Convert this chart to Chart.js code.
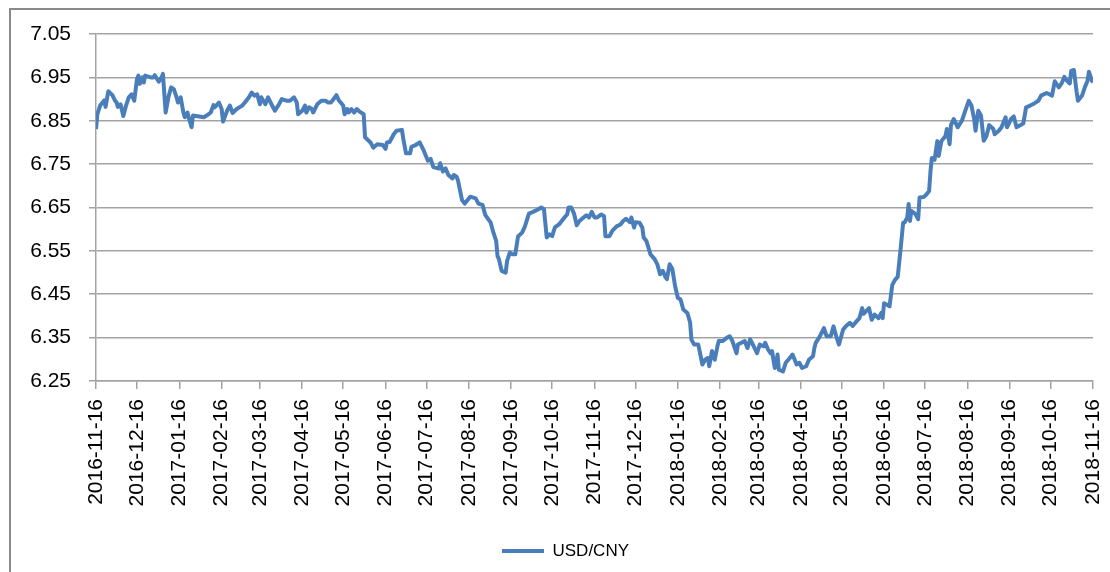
<!DOCTYPE html>
<html>
<head>
<meta charset="utf-8">
<script src="https://cdn.jsdelivr.net/npm/chart.js@4"></script>
<style>
  body { margin: 0; background: #fff; }
  #wrap { width: 1110px; height: 572px; }
</style>
</head>
<body>
<div id="wrap"><canvas id="fxChart"></canvas></div>
<script>
// x values are days after 2016-11-16 (the chart uses a date axis)
const startDate = '2016-11-16';
const tickLabels = ['2016-11-16', '2016-12-16', '2017-01-16', '2017-02-16', '2017-03-16', '2017-04-16',
  '2017-05-16', '2017-06-16', '2017-07-16', '2017-08-16', '2017-09-16', '2017-10-16', '2017-11-16',
  '2017-12-16', '2018-01-16', '2018-02-16', '2018-03-16', '2018-04-16', '2018-05-16', '2018-06-16',
  '2018-07-16', '2018-08-16', '2018-09-16', '2018-10-16', '2018-11-16'];
const yTicks = [6.25, 6.35, 6.45, 6.55, 6.65, 6.75, 6.85, 6.95, 7.05];
const seriesName = 'USD/CNY';

const days = [
  0, 1, 3, 6, 7, 9, 12, 14, 15, 16,
  18, 20, 22, 24, 26, 28, 30, 31, 32, 34,
  35, 36, 40, 42, 43, 46, 48, 49, 51, 53,
  55, 57, 59, 60, 62, 64, 65, 67, 68, 70,
  71, 79, 81, 84, 86, 87, 90, 92, 93, 96,
  98, 100, 103, 107, 109, 112, 114, 116, 118, 120,
  121, 124, 126, 129, 131, 134, 136, 140, 142, 145,
  147, 148, 151, 153, 154, 156, 158, 159, 162, 165,
  168, 170, 172, 174, 176, 178, 181, 182, 184, 185,
  187, 189, 191, 193, 196, 197, 201, 203, 206, 210,
  212, 213, 215, 218, 220, 224, 225, 227, 230, 231,
  234, 237, 240, 243, 245, 247, 251, 252, 254, 256,
  258, 261, 262, 264, 265, 268, 270, 274, 278, 280,
  283, 285, 289, 291, 293, 294, 295, 297, 300, 301,
  303, 305, 307, 309, 312, 314, 317, 320, 324, 326,
  328, 330, 332, 334, 336, 339, 341, 343, 345, 346,
  348, 350, 352, 354, 357, 359, 361, 363, 365, 367,
  370, 372, 373, 376, 378, 381, 384, 386, 388, 391,
  392, 394, 395, 398, 400, 401, 403, 406, 409, 411,
  413, 415, 417, 418, 420, 422, 424, 426, 428, 430,
  433, 435, 436, 438, 441, 444, 446, 448, 449, 451,
  453, 455, 456, 459, 462, 464, 466, 469, 470, 473,
  475, 477, 479, 481, 484, 486, 489, 490, 492, 494,
  495, 497, 498, 499, 500, 503, 505, 508, 510, 513,
  515, 517, 520, 522, 525, 526, 527, 530, 533, 535,
  538, 540, 542, 544, 547, 549, 552, 554, 557, 559,
  561, 562, 566, 568, 570, 573, 575, 576, 577, 579,
  581, 583, 585, 587, 589, 591, 592, 594, 595, 596,
  597, 600, 602, 603, 606, 608, 610, 611, 612, 614,
  616, 617, 619, 622, 623, 625, 626, 628, 631, 634,
  636, 639, 641, 643, 644, 646, 648, 650, 652, 654,
  657, 658, 661, 663, 666, 667, 670, 672, 674, 677,
  679, 681, 684, 687, 690, 692, 696, 698, 700, 702,
  705, 707, 709, 711, 713, 714, 716, 718, 719, 722,
  724, 726, 727, 729, 730
];

const rates = [
  6.831, 6.865, 6.885, 6.897, 6.882, 6.918, 6.909, 6.896, 6.893, 6.882,
  6.888, 6.861, 6.885, 6.904, 6.911, 6.896, 6.946, 6.954, 6.935, 6.950,
  6.938, 6.954, 6.950, 6.950, 6.955, 6.940, 6.950, 6.958, 6.869, 6.904,
  6.927, 6.923, 6.904, 6.892, 6.904, 6.869, 6.858, 6.869, 6.856, 6.835,
  6.862, 6.858, 6.862, 6.869, 6.886, 6.881, 6.892, 6.877, 6.848, 6.873,
  6.885, 6.868, 6.877, 6.885, 6.892, 6.904, 6.915, 6.908, 6.911, 6.888,
  6.904, 6.888, 6.904, 6.885, 6.873, 6.888, 6.900, 6.896, 6.896, 6.904,
  6.892, 6.865, 6.873, 6.885, 6.869, 6.881, 6.877, 6.869, 6.888, 6.896,
  6.896, 6.892, 6.892, 6.900, 6.909, 6.896, 6.885, 6.865, 6.877, 6.869,
  6.877, 6.869, 6.877, 6.871, 6.865, 6.812, 6.800, 6.788, 6.796, 6.794,
  6.785, 6.800, 6.801, 6.819, 6.827, 6.829, 6.808, 6.775, 6.775, 6.790,
  6.794, 6.800, 6.781, 6.758, 6.762, 6.743, 6.740, 6.752, 6.733, 6.740,
  6.725, 6.717, 6.725, 6.721, 6.713, 6.667, 6.659, 6.675, 6.671, 6.659,
  6.656, 6.633, 6.615, 6.592, 6.573, 6.538, 6.531, 6.504, 6.500, 6.527,
  6.546, 6.542, 6.542, 6.583, 6.592, 6.606, 6.636, 6.640, 6.646, 6.650,
  6.646, 6.581, 6.588, 6.584, 6.604, 6.611, 6.619, 6.627, 6.634, 6.650,
  6.650, 6.636, 6.609, 6.619, 6.627, 6.632, 6.627, 6.640, 6.627, 6.627,
  6.634, 6.630, 6.584, 6.584, 6.596, 6.606, 6.611, 6.619, 6.624, 6.616,
  6.627, 6.604, 6.616, 6.615, 6.604, 6.581, 6.573, 6.542, 6.531, 6.519,
  6.496, 6.504, 6.489, 6.485, 6.519, 6.508, 6.469, 6.442, 6.438, 6.415,
  6.407, 6.385, 6.345, 6.334, 6.334, 6.288, 6.299, 6.303, 6.284, 6.319,
  6.299, 6.330, 6.342, 6.342, 6.350, 6.353, 6.342, 6.314, 6.334, 6.339,
  6.342, 6.326, 6.346, 6.334, 6.314, 6.334, 6.330, 6.338, 6.323, 6.314,
  6.319, 6.280, 6.288, 6.311, 6.276, 6.272, 6.292, 6.303, 6.311, 6.288,
  6.292, 6.280, 6.284, 6.299, 6.307, 6.326, 6.338, 6.353, 6.372, 6.353,
  6.353, 6.376, 6.353, 6.334, 6.368, 6.376, 6.384, 6.377, 6.388, 6.395,
  6.418, 6.405, 6.418, 6.391, 6.403, 6.395, 6.407, 6.395, 6.429, 6.426,
  6.422, 6.471, 6.483, 6.490, 6.550, 6.615, 6.615, 6.627, 6.658, 6.619,
  6.642, 6.635, 6.623, 6.673, 6.674, 6.680, 6.688, 6.733, 6.764, 6.760,
  6.803, 6.769, 6.803, 6.815, 6.831, 6.796, 6.840, 6.854, 6.835, 6.850,
  6.869, 6.896, 6.885, 6.854, 6.827, 6.873, 6.862, 6.804, 6.815, 6.840,
  6.831, 6.819, 6.827, 6.835, 6.858, 6.835, 6.854, 6.860, 6.835, 6.840,
  6.844, 6.881, 6.885, 6.890, 6.896, 6.908, 6.914, 6.911, 6.908, 6.941,
  6.927, 6.936, 6.951, 6.942, 6.936, 6.965, 6.967, 6.917, 6.896, 6.908,
  6.927, 6.942, 6.963, 6.944, 6.938
];

const lineColor = '#4a7ebb';
const gridColor = '#a3a3a3';
const DAY = 86400000;
const tickDays = tickLabels.map(d => Math.round((Date.parse(d) - Date.parse(startDate)) / DAY));

// grey frame round the chart, like the spreadsheet chart area
const framePlugin = {
  id: 'frame',
  beforeDraw(chart) {
    const c = chart.ctx;
    c.save();
    c.fillStyle = '#fff';
    c.fillRect(0, 0, chart.width, chart.height);
    c.strokeStyle = '#8a8a8a';
    c.lineWidth = 2;
    c.strokeRect(10, 9, chart.width + 20, chart.height + 20);
    c.restore();
  },
  afterLayout(chart) {
    // legend sits a bit right of centre in the original
    chart.legend.left += 14;
    chart.legend.right += 14;
  }
};

new Chart(document.getElementById('fxChart'), {
  type: 'line',
  data: {
    datasets: [{
      label: seriesName,
      data: days.map((d, i) => ({ x: d, y: rates[i] })),
      borderColor: lineColor,
      backgroundColor: lineColor,
      borderWidth: 4,
      pointRadius: 0,
      tension: 0,
      borderJoinStyle: 'round'
    }]
  },
  options: {
    responsive: true,
    maintainAspectRatio: false,
    animation: false,
    layout: { padding: { left: 10, right: 17, top: 34, bottom: 2.5 } },
    plugins: {
      tooltip: { enabled: false },
      legend: {
        position: 'bottom',
        labels: {
          boxWidth: 42,
          boxHeight: 4,
          padding: 10,
          color: '#000',
          font: { family: 'Liberation Sans, Arial, sans-serif', size: 17 },
          generateLabels(chart) {
            const items = Chart.defaults.plugins.legend.labels.generateLabels(chart);
            items.forEach(it => { it.lineWidth = 0; it.fillStyle = lineColor; });
            return items;
          }
        }
      }
    },
    scales: {
      x: {
        type: 'linear',
        min: 0,
        max: tickDays[tickDays.length - 1],
        afterBuildTicks(scale) { scale.ticks = tickDays.map(v => ({ value: v })); },
        afterFit(scale) {
          scale.height = 151.5;
          scale.paddingLeft = 0;
          scale.paddingRight = 0;
        },
        ticks: {
          autoSkip: false,
          minRotation: 90,
          maxRotation: 90,
          padding: 10,
          color: '#000',
          font: { family: 'Liberation Sans, Arial, sans-serif', size: 21 },
          callback: (v, i) => tickLabels[i]
        },
        grid: { drawOnChartArea: false, tickLength: 8, color: gridColor, lineWidth: 1.5 },
        border: { color: gridColor, width: 1.5 }
      },
      y: {
        min: yTicks[0],
        max: yTicks[yTicks.length - 1],
        afterBuildTicks(scale) { scale.ticks = yTicks.map(v => ({ value: v })); },
        afterFit(scale) { scale.width = 86; },
        ticks: {
          padding: 18,
          color: '#000',
          font: { family: 'Liberation Sans, Arial, sans-serif', size: 21 },
          callback: v => v.toFixed(2)
        },
        grid: { tickLength: 7, color: gridColor, lineWidth: 1.5 },
        border: { color: gridColor, width: 1.5 }
      }
    }
  },
  plugins: [framePlugin]
});
</script>
</body>
</html>
